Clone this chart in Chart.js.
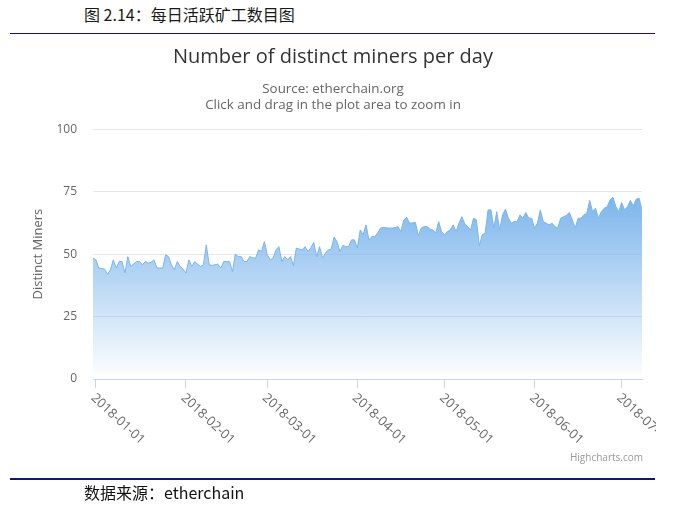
<!DOCTYPE html>
<html lang="zh">
<head>
<meta charset="UTF-8">
<title>每日活跃矿工数目图</title>
<script src="https://cdn.jsdelivr.net/npm/chart.js@4/dist/chart.umd.min.js"></script>
<style>
  body { margin: 0; background: #fff; }
  #page { position: relative; width: 682px; height: 506px; overflow: hidden; }
  .cn { position: absolute; font-family: "Noto Sans CJK SC", sans-serif; color: #1a1a1a; font-size: 16px; line-height: 16px; white-space: nowrap; }
  .rule { position: absolute; left: 10px; width: 645px; background: #15156b; }
  #box { position: absolute; left: 0; top: 0; width: 682px; height: 506px; }
  #credit { position: absolute; right: 39px; top: 450px; font: 10px "Open Sans", sans-serif; color: #999; }
</style>
</head>
<body>
<div id="page">
  <div class="cn" style="left:84px;top:6px;">图 2.14：每日活跃矿工数目图</div>
  <div class="rule" style="top:33px;height:1px;"></div>
  <div id="box"><canvas id="myChart"></canvas></div>
  <div id="credit">Highcharts.com</div>
  <div class="rule" style="top:478px;height:2px;"></div>
  <div class="cn" style="left:84px;top:484px;color:#111;">数据来源：etherchain</div>
</div>
<script>
  // day 0 = 2017-12-31, one value per day
  const minersPerDay = [
    48.4, 47.7, 44.4, 44.2, 44, 42, 43.7, 47.7, 44.4, 47,
    47, 42.4, 49, 45, 46, 47, 47, 45.7, 47, 46.4,
    46.7, 47.7, 44.5, 44.4, 44.4, 49.7, 49, 45.7, 43.7, 47,
    45, 44, 42.4, 47.7, 45, 47, 46, 45, 45.7, 53.7,
    45.7, 45.5, 45.7, 46, 44.4, 47, 47, 47, 43, 50,
    49, 49, 47, 47, 49, 48.5, 48.4, 51.7, 51, 55,
    49.7, 47.7, 48.4, 51.7, 53, 47, 49, 47.7, 49, 45.3,
    52.4, 52, 51.7, 53, 51, 52.5, 54.7, 49, 53, 48.4,
    50.4, 51.7, 52, 56.8, 55, 51, 53.5, 53, 53, 55.7,
    55.7, 52.4, 59.7, 57.7, 61.7, 55.7, 57, 57, 58.5, 60.4,
    60.7, 60.5, 60.4, 60.4, 60.6, 61, 59, 63.7, 64.7, 62.4,
    62.5, 62.7, 57.3, 60.4, 61, 61, 60, 59.7, 58.4, 63,
    59, 57.7, 59, 59.7, 61.7, 59, 62.4, 65, 62, 61,
    59.7, 64.4, 63.7, 53.3, 57.7, 58.4, 67.7, 67.7, 60.4, 67,
    59.7, 65.7, 68, 64.4, 62.4, 63, 63, 65.7, 64.4, 66.7,
    64.4, 64.4, 60.4, 62.4, 67.7, 63, 62.4, 61.7, 62.4, 61,
    60.4, 64.4, 65, 65.5, 66.7, 63.7, 60.4, 64.4, 64.4, 65.7,
    66.4, 71.5, 67, 68.4, 64.4, 67, 68.4, 69, 71.7, 72.8,
    69, 67, 70.7, 67.7, 69, 71.5, 69.3, 72, 72.4, 67.7
  ];
  const monthTicks = [1, 32, 60, 91, 121, 152, 182];
  const monthLabels = ['2018-01-01', '2018-02-01', '2018-03-01', '2018-04-01', '2018-05-01', '2018-06-01', '2018-07-01'];
  const yTicks = [0, 25, 50, 75, 100];

  const font = '"Open Sans", sans-serif';

  // highcharts style labels: start at the tick and run down to the right
  const slantedLabels = {
    id: 'slantedLabels',
    afterDraw(chart) {
      const xs = chart.scales.x;
      const ctx = chart.ctx;
      ctx.save();
      ctx.beginPath();
      ctx.rect(0, xs.top, 656, 80);
      ctx.clip();
      ctx.font = '13px ' + font;
      ctx.fillStyle = '#666';
      ctx.textAlign = 'left';
      ctx.textBaseline = 'middle';
      monthTicks.forEach((d, i) => {
        const x = xs.getPixelForValue(d);
        ctx.save();
        ctx.translate(x - 3, xs.top + 17);
        ctx.rotate(Math.PI / 4.2);
        ctx.fillText(monthLabels[i], 0, 0);
        ctx.restore();
      });
      ctx.restore();
    }
  };

  const ctx = document.getElementById('myChart').getContext('2d');
  new Chart(ctx, {
    type: 'line',
    data: {
      datasets: [{
        label: 'Distinct Miners',
        data: minersPerDay.map((v, i) => ({ x: i, y: v })),
        borderColor: '#7cb5ec',
        borderWidth: 1,
        pointRadius: 0,
        tension: 0,
        fill: 'origin',
        backgroundColor: (c) => {
          const chart = c.chart;
          const area = chart.chartArea;
          if (!area) return 'rgba(124,181,236,0.5)';
          const top = chart.scales.y.getPixelForValue(Math.max(...minersPerDay));
          const g = chart.ctx.createLinearGradient(0, top, 0, area.bottom);
          g.addColorStop(0, 'rgba(124,181,236,1)');
          g.addColorStop(1, 'rgba(124,181,236,0)');
          return g;
        }
      }]
    },
    options: {
      responsive: true,
      maintainAspectRatio: false,
      animation: false,
      layout: { padding: { top: 37, left: 24, right: 40, bottom: 77 } },
      plugins: {
        legend: { display: false },
        tooltip: { enabled: false },
        title: {
          display: true,
          text: 'Number of distinct miners per day',
          color: '#333',
          font: { family: font, size: 20, weight: 'normal', lineHeight: 1.2 },
          padding: { top: 8, bottom: 8 }
        },
        subtitle: {
          display: true,
          text: ['Source: etherchain.org', 'Click and drag in the plot area to zoom in'],
          color: '#666',
          font: { family: font, size: 13.4, lineHeight: 1.22 },
          padding: { top: 4, bottom: 15.5 }
        }
      },
      scales: {
        x: {
          type: 'linear',
          min: 0,
          max: minersPerDay.length - 1,
          afterBuildTicks: (s) => { s.ticks = monthTicks.map(v => ({ value: v })); },
          afterFit: (s) => { s.height = 50; },
          ticks: { display: false },
          grid: { drawOnChartArea: false, color: '#ccd6eb', tickLength: 9 },
          border: { color: '#ccd6eb' }
        },
        y: {
          min: 0,
          max: 100,
          afterBuildTicks: (s) => { s.ticks = yTicks.map(v => ({ value: v })); },
          afterFit: (s) => { s.width = 69; },
          ticks: { color: '#666', padding: 16, font: { family: font, size: 12 } },
          grid: { color: '#e6e6e6', drawTicks: false },
          border: { display: false },
          title: {
            display: true,
            text: 'Distinct Miners',
            color: '#666',
            font: { family: font, size: 13 },
            padding: { top: 6, bottom: 0 }
          }
        }
      }
    },
    plugins: [slantedLabels]
  });
</script>
</body>
</html>
